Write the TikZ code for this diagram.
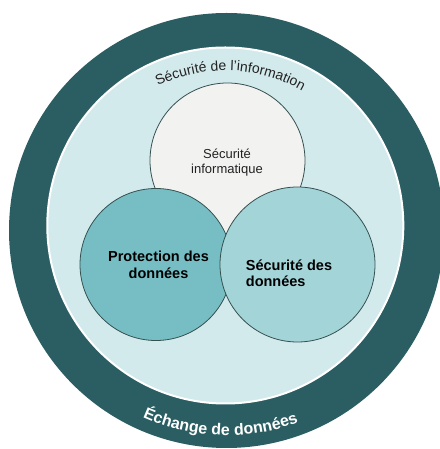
\documentclass[tikz,border=0pt]{standalone}
\usepackage{fontspec}
\setmainfont{Liberation Sans}
\usetikzlibrary{decorations.text}
\definecolor{ringdark}{HTML}{2A5E62}
\definecolor{innerlight}{HTML}{D3EAED}
\definecolor{topfill}{HTML}{F2F2F1}
\definecolor{leftfill}{HTML}{76BEC4}
\definecolor{rightfill}{HTML}{A3D4D8}
\definecolor{edgecol}{HTML}{34504F}
\definecolor{textgray}{HTML}{222222}
\tikzset{
  disc/.style={circle, inner sep=0pt, outer sep=0pt},
  venn/.style={disc, draw=edgecol, line width=0.8pt},
  plainlabel/.style={inner sep=0pt, text=textgray, font=\fontsize{13}{14.3}\selectfont},
  boldlabel/.style={inner sep=0pt, text=black, font=\bfseries\fontsize{14.5}{16.6}\selectfont}
}
\begin{document}
\begin{tikzpicture}[x=1pt,y=1pt]
\useasboundingbox (0,0) rectangle (439,449);
\fill[white] (0,0) rectangle (439,449);
\node[disc, fill=ringdark, minimum size=435pt] (outer) at (226.5,218.5) {};
\node[disc, fill=innerlight, draw=white, line width=2pt, minimum size=356pt] (inner) at (225.3,223.5) {};
\node[venn, fill=topfill, minimum size=155pt] (top) at (227.5,288.5) {};
\node[venn, fill=leftfill, minimum size=152pt] (left) at (156,184.5) {};
\node[venn, fill=rightfill, minimum size=155pt] (right) at (297.5,184.5) {};
\path[decorate, decoration={text along path, text align=center,
  text={|\fontsize{14}{16}\selectfont\color{textgray}|Sécurité de l'information}}]
  ([shift={(118:155)}]inner.center) arc[start angle=118, end angle=58, radius=155];
\path[decorate, decoration={text along path, text align=center,
  text={|\bfseries\fontsize{16}{18}\selectfont\color{white}|Échange de données}}]
  ([shift={(236.2:205)}]outer.center) arc[start angle=236.2, end angle=300.2, radius=205];
\node[plainlabel, anchor=base, align=center] (toplabel) at (227,275.7) {Sécurité\\informatique};
\node[boldlabel, anchor=base, align=center] (leftlabel) at (158.5,170.7) {Protection des\\données};
\node[boldlabel, anchor=base west, align=left] (rightlabel) at (245.7,162.3) {Sécurité des\\données};
\end{tikzpicture}
\end{document}
